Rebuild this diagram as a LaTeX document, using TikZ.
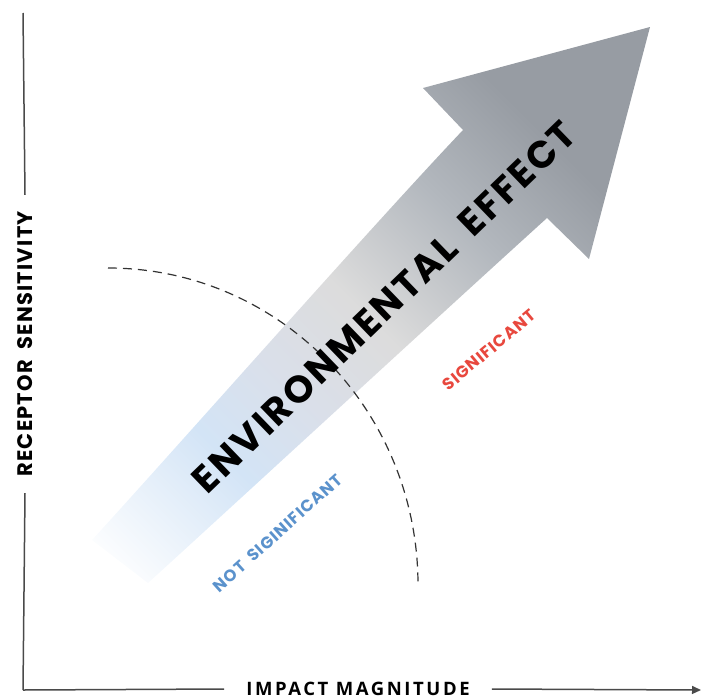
\documentclass[tikz,border=0pt]{standalone}
\usepackage{fontspec}
\setmainfont{Poppins}
\newfontfamily\effectfont[LetterSpace=6,WordSpace=1.8]{Poppins}
\newfontfamily\axisfont[LetterSpace=14]{Open Sans}
\usetikzlibrary{arrows.meta}

\definecolor{axisgray}{HTML}{4A4A4A}
\definecolor{dashgray}{HTML}{333333}
\definecolor{notsigblue}{HTML}{5B92CC}
\definecolor{sigred}{HTML}{E8483E}
\definecolor{effblue}{HTML}{D3E4F6}
\definecolor{effmist}{HTML}{DADFE9}
\definecolor{effpale}{HTML}{DCDCDC}
\definecolor{effmid}{HTML}{B3B8BE}
\definecolor{effhead}{HTML}{979CA3}

\pgfdeclarehorizontalshading{effectfade}{100bp}{color(0bp)=(white); color(16bp)=(white);
  color(31bp)=(effblue); color(40bp)=(effmist); color(49bp)=(effpale);
  color(61bp)=(effmid); color(72bp)=(effhead); color(100bp)=(effhead)}

\begin{document}
\begin{tikzpicture}[x=1pt,y=-1pt,
	axis/.style={draw=axisgray,line width=1.5pt},
	axistitle/.style={font=\axisfont\bfseries\fontsize{18.5}{18.5}\selectfont,inner xsep=22pt,inner ysep=0pt},
	zonelabel/.style={font=\effectfont\bfseries\fontsize{16.5}{16.5}\selectfont,inner sep=0pt},
	boundary/.style={draw=dashgray,line width=1.2pt,dash pattern=on 9pt off 6pt}]
	\useasboundingbox (0,0) rectangle (701,699);

	% the big shaded arrow
	\shade[shading=effectfade,shading angle=45]
		(650,27) -- (589,259) -- (547,218)
		.. controls (440,315) and (250,490) .. (148,583) -- (92,540)
		.. controls (170,455) and (370,228) .. (463,130) -- (423,88) -- cycle;

	% border between the two zones
	\draw[boundary] (108,268) arc[start angle=-90,end angle=0,x radius=310,y radius=317];

	\node[font=\effectfont\bfseries\fontsize{38}{38}\selectfont,rotate=44,inner sep=0pt]
		(effect) at (384,307) {ENVIRONMENTAL EFFECT};
	\node[zonelabel,text=notsigblue,rotate=42] (notsig) at (278,533) {NOT SIGINIFICANT};
	\node[zonelabel,text=sigred,rotate=40] (sig) at (489,350) {SIGNIFICANT};

	% axes
	\coordinate (origin) at (23,690);
	\coordinate (xend) at (701,690);
	\coordinate (yend) at (23,13);
	\node[axistitle] (magnitude) at (358,689) {IMPACT MAGNITUDE};
	\node[axistitle,font=\effectfont\bfseries\fontsize{21}{21}\selectfont,inner xsep=16pt,rotate=90]
		(sensitivity) at (25,344) {RECEPTOR SENSITIVITY};
	\draw[axis] (origin) -- (magnitude.west);
	\draw[axis,-{Triangle[length=9pt,width=8pt]}] (magnitude.east) -- (xend);
	\draw[axis] (origin) -- (sensitivity.west);
	\draw[axis] (sensitivity.east) -- (yend);
\end{tikzpicture}
\end{document}
